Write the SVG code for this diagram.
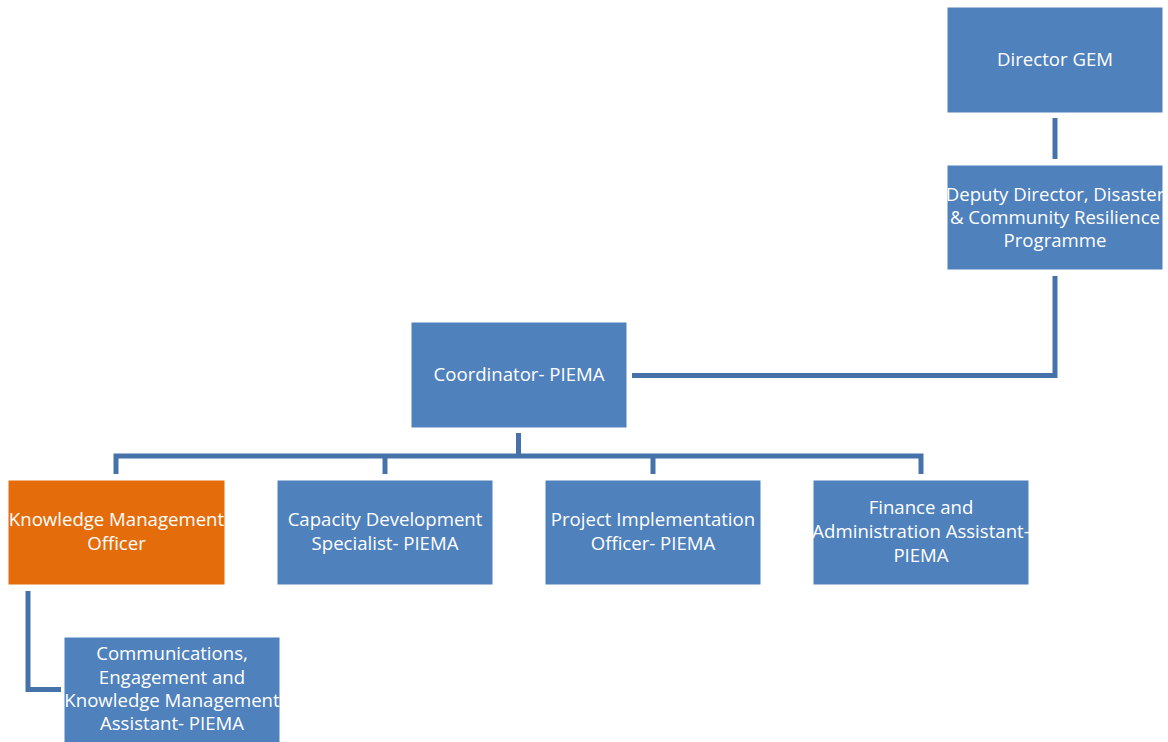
<svg xmlns="http://www.w3.org/2000/svg" width="1168" height="742" viewBox="0 0 1168 742">
<style>
.box{fill:#4F81BD;stroke:#ffffff;stroke-width:1}
.orange{fill:#E46C0A}
.t{font-family:"Open Sans","Liberation Sans",Arial,sans-serif;font-size:18.6px;fill:#ffffff;text-anchor:middle}
.c{fill:none;stroke:#4672AA;stroke-width:5;stroke-linejoin:miter}
</style>
<rect width="1168" height="742" fill="#ffffff"/>
<g id="connectors">
<path class="c" d="M1055,118 V159"/>
<path class="c" d="M1055,276 V375.5 H632"/>
<path class="c" d="M518.5,433 V456"/>
<path class="c" d="M116,474 V456 H921 V474"/>
<path class="c" d="M385,456 V474"/>
<path class="c" d="M653,456 V474"/>
<path class="c" d="M28,591 V689.5 H61"/>
</g>
<g id="director">
<rect class="box" x="947" y="7" width="216" height="106"/>
<text class="t" x="1055" y="66">Director GEM</text>
</g>
<g id="deputy">
<rect class="box" x="947" y="165" width="216" height="105"/>
<text class="t" x="1055" y="201">Deputy Director, Disaster</text>
<text class="t" x="1055" y="224">&amp; Community Resilience</text>
<text class="t" x="1055" y="247">Programme</text>
</g>
<g id="coordinator">
<rect class="box" x="411" y="322" width="216" height="106"/>
<text class="t" x="519" y="381">Coordinator- PIEMA</text>
</g>
<g id="kmo">
<rect class="box orange" x="8" y="480" width="217" height="105"/>
<text class="t" x="116.5" y="526">Knowledge Management</text>
<text class="t" x="116.5" y="550">Officer</text>
</g>
<g id="capacity">
<rect class="box" x="277" y="480" width="216" height="105"/>
<text class="t" x="385" y="526">Capacity Development</text>
<text class="t" x="385" y="550">Specialist- PIEMA</text>
</g>
<g id="project">
<rect class="box" x="545" y="480" width="216" height="105"/>
<text class="t" x="653" y="526">Project Implementation</text>
<text class="t" x="653" y="550">Officer- PIEMA</text>
</g>
<g id="finance">
<rect class="box" x="813" y="480" width="216" height="105"/>
<text class="t" x="921" y="514">Finance and</text>
<text class="t" x="921" y="538">Administration Assistant-</text>
<text class="t" x="921" y="562">PIEMA</text>
</g>
<g id="communications">
<rect class="box" x="64" y="637" width="216" height="106"/>
<text class="t" x="172" y="660">Communications,</text>
<text class="t" x="172" y="684">Engagement and</text>
<text class="t" x="172" y="707">Knowledge Management</text>
<text class="t" x="172" y="730">Assistant- PIEMA</text>
</g>
</svg>
